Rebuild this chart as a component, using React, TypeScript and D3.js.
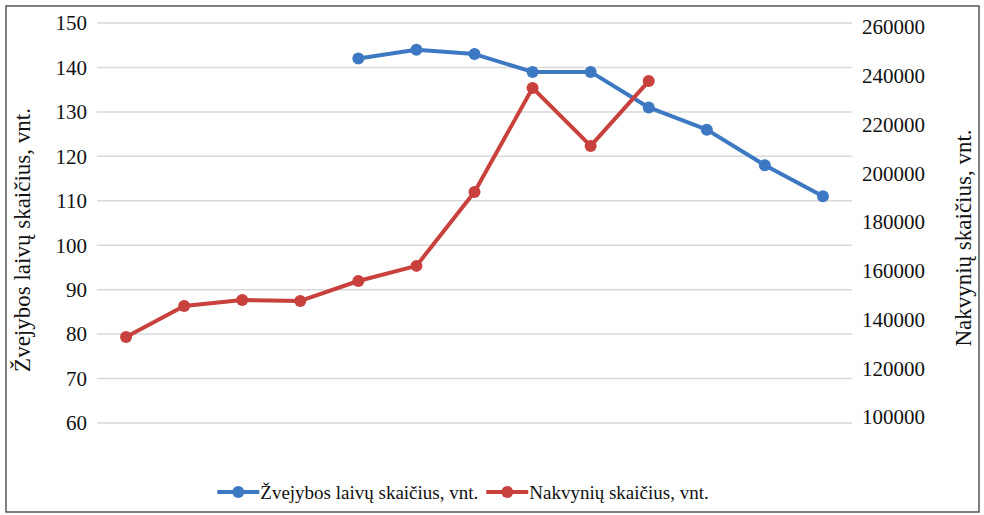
import React, { useEffect, useRef } from 'react';
import * as d3 from 'd3';

// 13 periods, no x labels shown in the chart
const periods = d3.range(13);
const boats: (number | null)[] = [null, null, null, null, 142, 144, 143, 139, 139, 131, 126, 118, 111];
const nights: (number | null)[] = [132800, 145500, 148000, 147600, 155800, 162000, 192300, 235000, 211200, 237800, null, null, null];
const leftTicks = [60, 70, 80, 90, 100, 110, 120, 130, 140, 150];
const rightTicks = [100000, 120000, 140000, 160000, 180000, 200000, 220000, 240000, 260000];
const leftTitle = 'Žvejybos laivų skaičius, vnt.';
const rightTitle = 'Nakvynių skaičius, vnt.';

const BLUE = '#3d78c3';
const RED = '#c8413d';
const FONT = "'Liberation Serif', 'Times New Roman', Tinos, 'DejaVu Serif', serif";

const App = () => {
  const svgRef = useRef<SVGSVGElement>(null);

  useEffect(() => {
    const width = 984;
    const height = 515;
    const svg = d3.select(svgRef.current).attr('width', width).attr('height', height);
    svg.selectAll('*').remove();

    svg.append('rect')
      .attr('x', 6).attr('y', 6)
      .attr('width', 973).attr('height', 506)
      .attr('fill', '#fff')
      .attr('stroke', '#555')
      .attr('stroke-width', 1.5);

    const x = d3.scaleBand<number>().domain(periods).range([97, 852]);
    const yL = d3.scaleLinear().domain([60, 150]).range([423, 23]);
    const yR = d3.scaleLinear().domain([100000, 260000]).range([417, 27]);

    // gridlines (left axis)
    svg.append('g')
      .selectAll('line')
      .data(leftTicks)
      .join('line')
      .attr('x1', 97).attr('x2', 852)
      .attr('y1', d => yL(d)).attr('y2', d => yL(d))
      .attr('stroke', '#d9d9d9')
      .attr('stroke-width', 1.5);

    svg.append('g')
      .selectAll('text')
      .data(leftTicks)
      .join('text')
      .attr('x', 87)
      .attr('y', d => yL(d))
      .attr('dy', '0.35em')
      .attr('text-anchor', 'end')
      .style('font-family', FONT)
      .style('font-size', '21px')
      .attr('fill', '#111')
      .text(d => d);

    svg.append('g')
      .selectAll('text')
      .data(rightTicks)
      .join('text')
      .attr('x', 862)
      .attr('y', d => yR(d))
      .attr('dy', '0.35em')
      .attr('text-anchor', 'start')
      .style('font-family', FONT)
      .style('font-size', '21px')
      .attr('fill', '#111')
      .text(d => d);

    svg.append('text')
      .attr('transform', 'translate(22,240) rotate(-90)')
      .attr('text-anchor', 'middle')
      .attr('dy', '0.35em')
      .style('font-family', FONT)
      .style('font-size', '23px')
      .attr('fill', '#111')
      .text(leftTitle);

    svg.append('text')
      .attr('transform', 'translate(963,238) rotate(-90)')
      .attr('text-anchor', 'middle')
      .attr('dy', '0.35em')
      .style('font-family', FONT)
      .style('font-size', '23px')
      .attr('fill', '#111')
      .text(rightTitle);

    const cx = (i: number) => (x(i) as number) + x.bandwidth() / 2;

    const drawSeries = (vals: (number | null)[], y: d3.ScaleLinear<number, number>, color: string) => {
      const pts = periods.map((p, i) => ({ p, v: vals[i] })).filter(d => d.v != null) as { p: number; v: number }[];
      const line = d3.line<{ p: number; v: number }>().x(d => cx(d.p)).y(d => y(d.v));
      svg.append('path')
        .attr('d', line(pts))
        .attr('fill', 'none')
        .attr('stroke', color)
        .attr('stroke-width', 4)
        .attr('stroke-linejoin', 'round');
      svg.append('g')
        .selectAll('circle')
        .data(pts)
        .join('circle')
        .attr('cx', d => cx(d.p))
        .attr('cy', d => y(d.v))
        .attr('r', 6)
        .attr('fill', color);
    };

    drawSeries(boats, yL, BLUE);
    drawSeries(nights, yR, RED);

    // legend, laid out from measured text widths and centred
    const legend = [
      { label: leftTitle, color: BLUE },
      { label: rightTitle, color: RED },
    ];
    const lgRoot = svg.append('g');
    const lg = lgRoot.selectAll('g').data(legend).join('g');
    lg.append('line')
      .attr('x1', 0).attr('x2', 42)
      .attr('stroke', d => d.color)
      .attr('stroke-width', 4);
    lg.append('circle')
      .attr('cx', 21).attr('r', 6)
      .attr('fill', d => d.color);
    lg.append('text')
      .attr('x', 43)
      .attr('dy', '0.35em')
      .style('font-family', FONT)
      .style('font-size', '19px')
      .attr('fill', '#111')
      .text(d => d.label);

    let offset = 0;
    lg.each(function () {
      const g = d3.select(this);
      g.attr('transform', `translate(${offset},0)`);
      const tw = (g.select('text').node() as SVGTextElement).getComputedTextLength();
      offset += 43 + tw + 8;
    });
    const total = offset - 8;
    lgRoot.attr('transform', `translate(${463 - total / 2},492)`);
  }, []);

  return (
    <svg ref={svgRef} style={{ position: 'absolute', left: 0, top: 0 }} />
  );
};

export default App;
